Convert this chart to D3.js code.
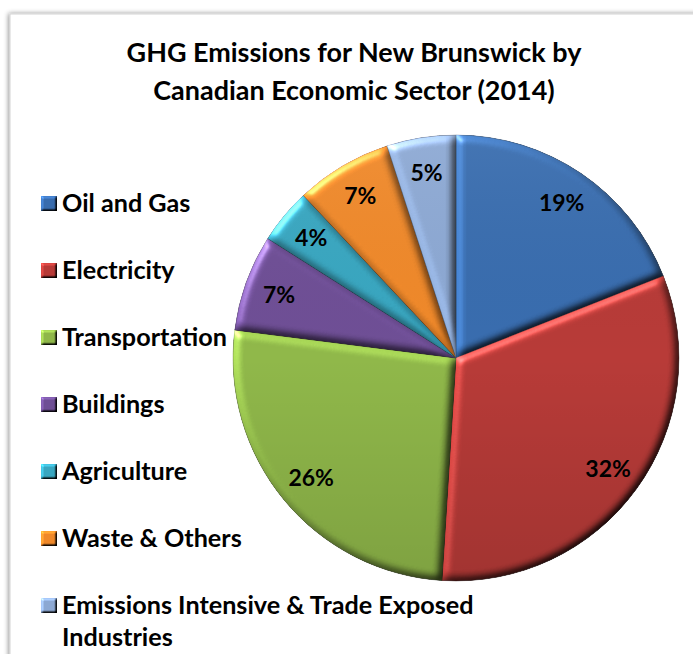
<!DOCTYPE html>
<html>
<head>
<meta charset="utf-8">
<script src="https://cdn.jsdelivr.net/npm/d3@7"></script>
<style>
  html, body { margin: 0; padding: 0; background: #fff; }
  svg { display: block; }
  text { font-family: Lato, "Open Sans", sans-serif; font-weight: bold; fill: #000; }
</style>
</head>
<body>
<svg id="chart" width="693" height="654"></svg>
<script>
const titleLines = ["GHG Emissions for New Brunswick by", "Canadian Economic Sector (2014)"];
const categories = ["Oil and Gas", "Electricity", "Transportation", "Buildings", "Agriculture", "Waste & Others", "Emissions Intensive & Trade Exposed Industries"];
const legendLines = [["Oil and Gas"], ["Electricity"], ["Transportation"], ["Buildings"], ["Agriculture"], ["Waste & Others"], ["Emissions Intensive & Trade Exposed", "Industries"]];
const values = [19, 32, 26, 7, 4, 7, 5];
const colors = ["#386CAE", "#B73A37", "#8FB749", "#6E4E95", "#38A6C0", "#EF8829", "#8CA8D3"];

const W = 693, H = 654;
const svg = d3.select("#chart");
const defs = svg.append("defs");

// frame shadow
const sh = defs.append("filter").attr("id", "frameShadow").attr("x", "-5%").attr("y", "-5%").attr("width", "110%").attr("height", "110%");
sh.append("feGaussianBlur").attr("in", "SourceAlpha").attr("stdDeviation", 2.5).attr("result", "b");
sh.append("feOffset").attr("in", "b").attr("dx", -1).attr("dy", 0).attr("result", "o");
sh.append("feComponentTransfer").attr("in", "o").attr("result", "o2")
  .append("feFuncA").attr("type", "linear").attr("slope", 0.45);
const shm = sh.append("feMerge");
shm.append("feMergeNode").attr("in", "o2");
shm.append("feMergeNode").attr("in", "SourceGraphic");

svg.append("rect").attr("x", 10).attr("y", 14).attr("width", W + 40).attr("height", H + 40)
  .attr("fill", "#fff").attr("stroke", "#d4d4d4").attr("stroke-width", 1)
  .attr("filter", "url(#frameShadow)");

// bevel filter: diffuse lighting normalised so flat areas keep their colour
function bevel(id, sd, scale, spec) {
  const f = defs.append("filter").attr("id", id).attr("x", "-10%").attr("y", "-10%").attr("width", "120%").attr("height", "120%")
    .attr("color-interpolation-filters", "sRGB");
  f.append("feGaussianBlur").attr("in", "SourceAlpha").attr("stdDeviation", sd).attr("result", "blur");
  const df = f.append("feDiffuseLighting").attr("in", "blur").attr("surfaceScale", scale)
    .attr("diffuseConstant", 1.0).attr("lighting-color", "#ffffff").attr("result", "diff");
  df.append("feDistantLight").attr("azimuth", 225).attr("elevation", 45);
  f.append("feComposite").attr("in", "SourceGraphic").attr("in2", "diff").attr("operator", "arithmetic")
    .attr("k1", 1.414).attr("k2", 0).attr("k3", 0).attr("k4", 0).attr("result", "lit");
  const sp = f.append("feSpecularLighting").attr("in", "blur").attr("surfaceScale", scale)
    .attr("specularConstant", 0.6).attr("specularExponent", 40).attr("lighting-color", "#ffffff").attr("result", "spec");
  sp.append("feDistantLight").attr("azimuth", 225).attr("elevation", 35);
  f.append("feComposite").attr("in", "lit").attr("in2", "spec").attr("operator", "arithmetic")
    .attr("k1", 0).attr("k2", 1).attr("k3", spec).attr("k4", 0).attr("result", "out");
  f.append("feComposite").attr("in", "out").attr("in2", "SourceAlpha").attr("operator", "in");
}
bevel("bevel", 4.5, 4, 0.55);
bevel("bevelSmall", 1.3, 2, 0.4);

// shading overlay gradient
const lg = defs.append("linearGradient").attr("id", "shade").attr("x1", 0).attr("y1", 0).attr("x2", 0).attr("y2", 1);
lg.append("stop").attr("offset", "0%").attr("stop-color", "#fff").attr("stop-opacity", 0.06);
lg.append("stop").attr("offset", "50%").attr("stop-color", "#000").attr("stop-opacity", 0.0);
lg.append("stop").attr("offset", "100%").attr("stop-color", "#000").attr("stop-opacity", 0.12);

// title
const title = svg.append("g");
titleLines.forEach((t, i) => {
  title.append("text").attr("x", 354).attr("y", 62 + i * 38).attr("text-anchor", "middle")
    .style("font-size", "26px").text(t);
});
(function () {
  const n = title.select("text").node();
  const w = n.getComputedTextLength();
  const s = 26 * 455 / w;
  title.selectAll("text").style("font-size", s + "px");
})();

// pie
const cx = 456, cy = 358, R = 223;
const pie = d3.pie().sort(null).value(d => d)(values);
const arc = d3.arc().innerRadius(0).outerRadius(R);
const labelArc = d3.arc().innerRadius(153).outerRadius(223);
const g = svg.append("g").attr("transform", `translate(${cx},${cy})`);

g.selectAll("path.slice").data(pie).enter().append("path").attr("class", "slice")
  .attr("d", arc).attr("fill", (d, i) => colors[i])
  .attr("stroke", (d, i) => d3.color(colors[i]).darker(1)).attr("stroke-width", 0.7)
  .attr("filter", "url(#bevel)");

g.append("circle").attr("r", R).attr("fill", "url(#shade)").attr("pointer-events", "none");

g.selectAll("text.lbl").data(pie).enter().append("text").attr("class", "lbl")
  .attr("transform", d => `translate(${labelArc.centroid(d)})`)
  .attr("text-anchor", "middle").attr("dy", "0.36em")
  .style("font-size", "23px")
  .text(d => d.data + "%");

// legend
const leg = svg.append("g");
const legY0 = 203.5, legStep = 67;
const items = leg.selectAll("g.item").data(categories).enter().append("g").attr("class", "item")
  .attr("transform", (d, i) => `translate(41,${legY0 + i * legStep})`);
items.append("rect").attr("x", 0).attr("y", -7.5).attr("width", 16).attr("height", 15)
  .attr("fill", (d, i) => colors[i]).attr("filter", "url(#bevelSmall)");
items.each(function (d, i) {
  const t = d3.select(this).append("text").attr("x", 21).attr("y", 0).style("font-size", "22px");
  legendLines[i].forEach((line, j) => {
    t.append("tspan").attr("x", 21).attr("dy", j === 0 ? "0.35em" : "32px").text(line);
  });
});
(function () {
  const n = leg.selectAll("text").nodes()[2];
  const w = n.getComputedTextLength();
  const s = 22 * 165 / w;
  leg.selectAll("text").style("font-size", s + "px");
})();
</script>
</body>
</html>
